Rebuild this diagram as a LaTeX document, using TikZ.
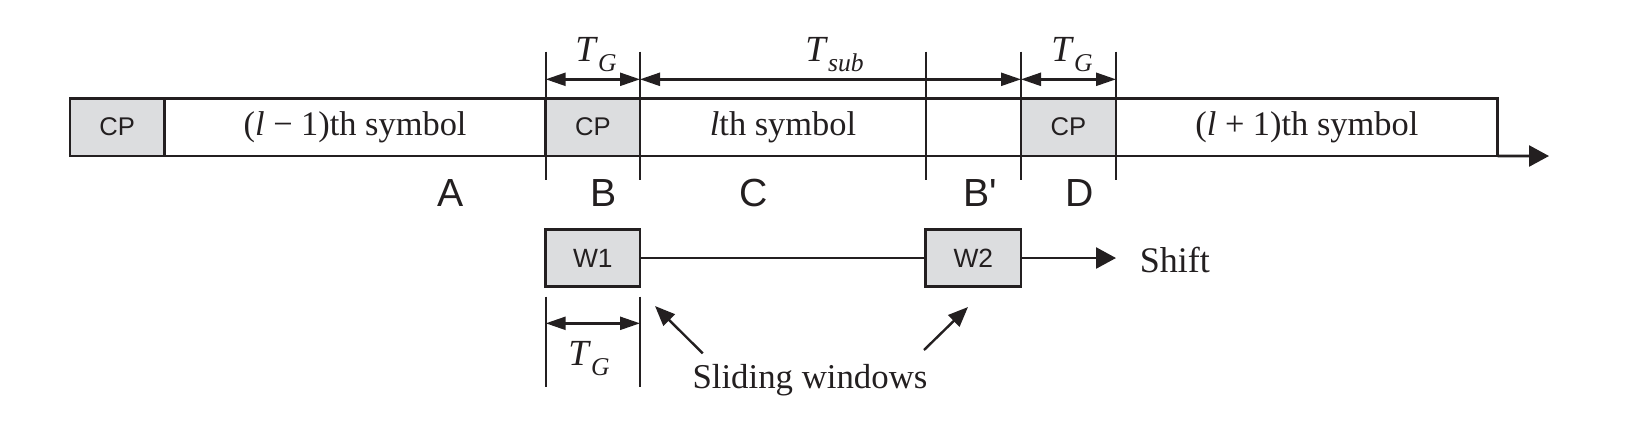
\documentclass[tikz,border=0pt]{standalone}
\usepackage{fontspec}
\setmainfont{Liberation Serif}
\setsansfont{Liberation Sans}
\usetikzlibrary{arrows.meta}
\definecolor{ink}{HTML}{231F20}
\definecolor{cpgray}{HTML}{DCDDDF}
\newcommand\subT[1]{\textit{T}\raisebox{-2.5pt}{\fontsize{6.4pt}{7pt}\selectfont\textit{#1}}}
\begin{document}
\begin{tikzpicture}[x=0.25pt,y=-0.25pt,
  box/.style={draw=ink, line width=0.65pt, inner sep=0pt, outer sep=0pt, minimum height=14.425pt, text=ink},
  cpbox/.style={box, fill=cpgray, font=\sffamily\fontsize{6.4pt}{7pt}\selectfont},
  symbox/.style={box, fill=white, font=\fontsize{8.6pt}{10pt}\selectfont},
  tickline/.style={draw=ink, line width=0.55pt},
  dimarrow/.style={draw=ink, line width=0.6pt, {Triangle[length=5pt,width=3.25pt]}-{Triangle[length=5pt,width=3.25pt]}},
  bigarrow/.style={draw=ink, line width=0.65pt, -{Triangle[length=5pt,width=5.25pt]}},
  ptr/.style={draw=ink, line width=0.6pt, -{Triangle[length=5pt,width=4pt]}},
  serif/.style={font=\fontsize{8.6pt}{10pt}\selectfont, text=ink, inner sep=0pt, anchor=base},
  tlabel/.style={font=\fontsize{9.2pt}{10pt}\selectfont, text=ink, inner sep=0pt, anchor=base},
  region/.style={font=\sffamily\fontsize{9.8pt}{11pt}\selectfont, text=ink, inner sep=0pt, anchor=base},
]
\useasboundingbox (0,0) rectangle (1637,432);

% main row of boxes
\node[cpbox, minimum width=23.625pt] (cp1) at (117.25,127.15) {CP};
\node[symbox, minimum width=95.3pt] (s1) at (355.1,127.15) {(\textit{l} − 1)th symbol};
\node[cpbox, minimum width=23.575pt] (cp2) at (592.85,127.15) {CP};
\node[symbox, minimum width=95.25pt] (s2) at (830.5,127.15) {};
\node[cpbox, minimum width=23.75pt] (cp3) at (1068.5,127.15) {CP};
\node[symbox, minimum width=95.425pt] (s3) at (1306.85,127.15) {(\textit{l} + 1)th symbol};
\node[serif] (s2t) at (783,135) {\textit{l}th symbol};

% time axis
\coordinate (axisend) at (1549,156);
\draw[bigarrow] (s3.south east) -- (axisend);

% ticks
\foreach \n/\x in {a/545.7,b/640,c/925.7,d/1021,e/1116}{
  \coordinate (top\n) at (\x,51.7);
  \coordinate (bot\n) at (\x,180);
  \coordinate (dim\n) at (\x,79.3);
  \draw[tickline] (top\n) -- (bot\n);
}

% dimension arrows
\draw[dimarrow] (dima) -- (dimb);
\draw[dimarrow] (dimb) -- (dimd);
\draw[dimarrow] (dimd) -- (dime);
\node[tlabel] (tg1) at (596,61.7) {\subT{G}};
\node[tlabel] (tsub) at (834.5,61.7) {\subT{sub}};
\node[tlabel] (tg2) at (1072,61.7) {\subT{G}};

% region labels
\node[region] (lA) at (451,206) {A};
\node[region] (lB) at (603.3,206) {B};
\node[region] (lC) at (754,206) {C};
\node[region] (lBp) at (980.5,206) {B\textquotesingle};
\node[region] (lD) at (1079.7,206) {D};

% sliding windows
\node[cpbox, minimum width=23.575pt, minimum height=14.35pt, font=\sffamily\fontsize{6.6pt}{7pt}\selectfont] (w1) at (592.85,258) {W1};
\node[cpbox, minimum width=23.825pt, minimum height=14.35pt, font=\sffamily\fontsize{6.6pt}{7pt}\selectfont] (w2) at (973.35,258) {W2};
\draw[draw=ink, line width=0.6pt] (w1.east) -- (w2.west);
\coordinate (shiftend) at (1116,258);
\draw[bigarrow] (w2.east) -- (shiftend);
\node[serif, anchor=base west, font=\fontsize{9pt}{10pt}\selectfont] (shift) at (1139,272.5) {Shift};

% lower T_G
\coordinate (ltopa) at (545.7,296.7);
\coordinate (lbota) at (545.7,387.3);
\coordinate (ltopb) at (640,296.7);
\coordinate (lbotb) at (640,387.3);
\draw[tickline] (ltopa) -- (lbota);
\draw[tickline] (ltopb) -- (lbotb);
\coordinate (ldima) at (545.7,323.3);
\coordinate (ldimb) at (640,323.3);
\draw[dimarrow] (ldima) -- (ldimb);
\node[tlabel] (tg3) at (589,365) {\subT{G}};

% sliding windows label and pointers
\node[serif, anchor=base west, font=\fontsize{8.7pt}{10pt}\selectfont] (sw) at (691.7,388.3) {Sliding windows};
\coordinate (p1tail) at (702.7,353.3);
\coordinate (p1tip) at (655,306);
\coordinate (p2tail) at (924,350);
\coordinate (p2tip) at (968,307);
\draw[ptr] (p1tail) -- (p1tip);
\draw[ptr] (p2tail) -- (p2tip);
\end{tikzpicture}
\end{document}
